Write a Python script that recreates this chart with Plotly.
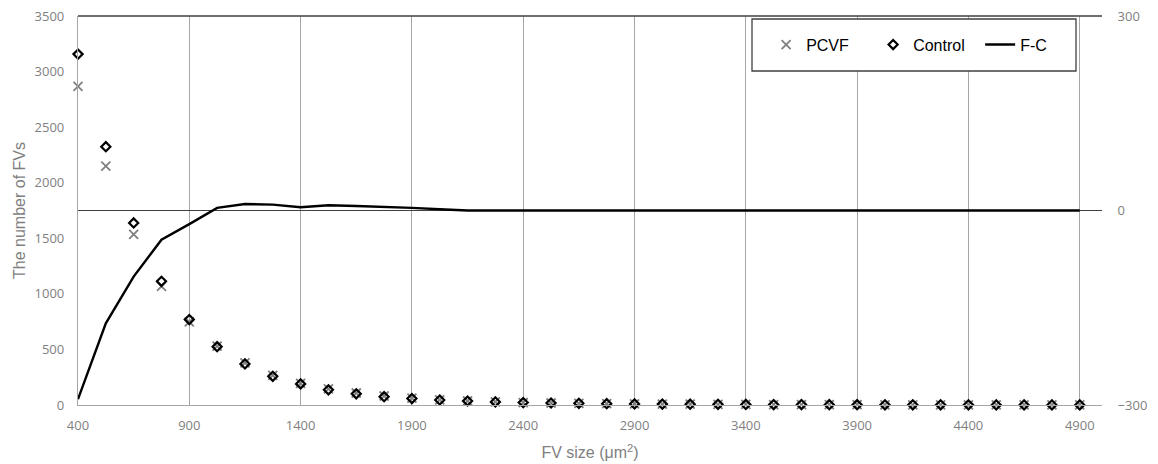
import plotly.graph_objects as go

fv_size = [400, 525, 650, 775, 900, 1025, 1150, 1275, 1400, 1525, 1650, 1775,
           1900, 2025, 2150, 2275, 2400, 2525, 2650, 2775, 2900, 3025, 3150,
           3275, 3400, 3525, 3650, 3775, 3900, 4025, 4150, 4275, 4400, 4525,
           4650, 4775, 4900]

pcvf = [2866, 2150, 1536, 1068, 748, 529, 380, 267, 195, 145, 108, 81, 62, 47,
        36, 28, 22, 18, 15, 12, 10, 8, 7, 6, 5, 4, 4, 3, 3, 2, 2, 2, 2, 1, 1, 1, 1]

control = [3157, 2324, 1638, 1113, 769, 525, 370, 258, 190, 137, 101, 75, 58, 45,
           36, 28, 22, 18, 15, 12, 10, 8, 7, 6, 5, 4, 4, 3, 3, 2, 2, 2, 2, 1, 1, 1, 1]

f_minus_c = [-291, -174, -102, -45, -21, 4, 10, 9, 5, 8, 7, 6, 4, 2, 0, 0, 0, 0,
             0, -1, 0, 0, 0, -1, -1, 0, 0, 0, -1, 0, 0, 0, 0, 0, -1, -1, 0]

x_ticks = [400, 900, 1400, 1900, 2400, 2900, 3400, 3900, 4400, 4900]

GRAY_TXT = "#7f7f7f"
GRID = "#a6a6a6"
DARK = "#404040"

fig = go.Figure()

fig.add_trace(go.Scatter(
    x=fv_size, y=pcvf, mode="markers", name="PCVF",
    marker=dict(symbol="x-thin-open", size=9, color="#808080",
                line=dict(color="#808080", width=1.8)),
    cliponaxis=False,
))
fig.add_trace(go.Scatter(
    x=fv_size, y=control, mode="markers", name="Control",
    marker=dict(symbol="diamond-open", size=7, color="black",
                line=dict(color="black", width=2.2)),
    cliponaxis=False,
))
fig.add_trace(go.Scatter(
    x=fv_size, y=f_minus_c, mode="lines", name="F-C", yaxis="y2",
    line=dict(color="black", width=2.4),
    cliponaxis=False,
))

fig.update_layout(
    width=1158, height=464,
    margin=dict(l=78, r=56, t=16, b=59, autoexpand=False),
    paper_bgcolor="white", plot_bgcolor="white",
    font=dict(family="Liberation Sans, Arial, sans-serif", color=GRAY_TXT),
    showlegend=True,
    legend=dict(
        orientation="h", x=0.672, y=0.97, xanchor="left", yanchor="top",
        font=dict(size=16, color="black", family="Liberation Sans, Arial, sans-serif"),
        bgcolor="rgba(0,0,0,0)", borderwidth=0, entrywidth=62,
    ),
    xaxis=dict(
        range=[400, 5000], tickvals=x_ticks, ticktext=[str(v) for v in x_ticks],
        showgrid=True, gridcolor=GRID, gridwidth=1.3, automargin=False,
        showline=True, linecolor=GRID, linewidth=1.3,
        zeroline=False, ticks="outside", ticklen=8, tickcolor="rgba(0,0,0,0)",
        tickfont=dict(size=13, color=GRAY_TXT, family="Open Sans, sans-serif"),
        title=dict(text="FV size (μm<sup>2</sup>)", font=dict(size=16, color=GRAY_TXT),
                   standoff=14),
    ),
    yaxis=dict(
        range=[0, 3500], dtick=500, tick0=0, automargin=False,
        showgrid=False, zeroline=False,
        showline=True, linecolor=GRID, linewidth=1.3,
        ticks="outside", ticklen=10, tickcolor="rgba(0,0,0,0)",
        tickfont=dict(size=13, color=GRAY_TXT, family="Open Sans, sans-serif"),
        title=dict(text="The number of FVs", font=dict(size=16, color=GRAY_TXT),
                   standoff=4),
    ),
    yaxis2=dict(
        range=[-300, 300], dtick=300, tick0=0, overlaying="y", side="right",
        showgrid=False, zeroline=True, zerolinecolor=DARK, zerolinewidth=1.3,
        showline=False, automargin=False,
        ticks="outside", ticklen=12, tickcolor="rgba(0,0,0,0)",
        tickfont=dict(size=13, color=GRAY_TXT, family="Open Sans, sans-serif"),
    ),
    shapes=[
        dict(type="line", xref="paper", yref="paper", x0=0, x1=1, y0=1, y1=1,
             line=dict(color=DARK, width=1.3), layer="above"),
        dict(type="rect", xref="paper", yref="paper",
             x0=(752 - 78) / 1024, x1=(1076 - 78) / 1024,
             y0=1 - (71 - 16) / 389, y1=1 - (19 - 16) / 389,
             line=dict(color=DARK, width=1.3), fillcolor="white", layer="above"),
    ],
)

fig.write_html("out.html", config={"displayModeBar": False},
               post_script="document.body.style.margin='0';document.body.style.padding='0';")
